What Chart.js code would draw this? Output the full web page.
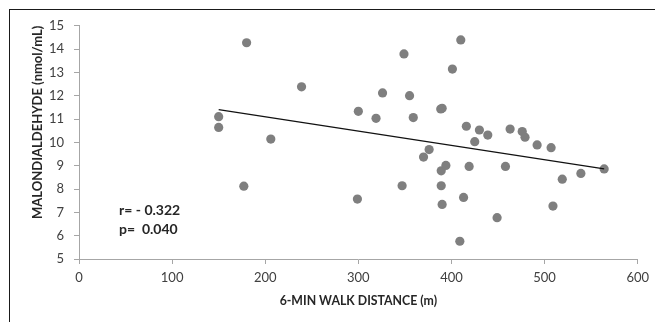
<!DOCTYPE html>
<html>
<head>
<meta charset="utf-8">
<script src="https://cdn.jsdelivr.net/npm/chart.js@4/dist/chart.umd.min.js"></script>
<style>
  html, body { margin: 0; padding: 0; background: #fff; }
  #wrap { position: relative; width: 655px; height: 322px; }
  #frame {
    position: absolute; left: 9px; top: 9px; right: 0; bottom: 0;
    border-top: 1px solid #1a1a1a; border-left: 1px solid #1a1a1a;
    pointer-events: none;
  }
</style>
</head>
<body>
<div id="wrap">
  <canvas id="chart" width="655" height="322"></canvas>
  <div id="frame"></div>
</div>
<script>
// ============================================
// 6MWD vs malondialdehyde scatter
// ============================================

// walk distance (m) and MDA (nmol/mL)
const walkDistance = [
    150, 150, 177, 180, 206, 239, 300, 299, 319, 326,
    347, 349, 355, 359, 370, 376, 388.5, 390, 389, 394,
    389, 390, 401, 409, 410, 413, 416, 419, 425, 430,
    439, 449, 458, 463, 476, 479, 492, 507, 509, 519,
    539, 564
];
const malondialdehyde = [
    11.10, 10.64, 8.12, 14.27, 10.14, 12.38, 11.33, 7.57, 11.03, 12.12,
    8.14, 13.79, 12.00, 11.06, 9.37, 9.69, 11.43, 11.46, 8.78, 9.01,
    8.14, 7.34, 13.14, 5.76, 14.39, 7.64, 10.69, 8.97, 10.03, 10.53,
    10.31, 6.77, 8.97, 10.57, 10.46, 10.22, 9.89, 9.77, 7.27, 8.42,
    8.67, 8.86
];

// linear trend line end points
const trendX = [150, 564];
const trendY = [11.40, 8.86];

// axis ticks
const xTicks = [0, 100, 200, 300, 400, 500, 600];
const yTicks = [5, 6, 7, 8, 9, 10, 11, 12, 13, 14, 15];

// correlation stats
const statLines = ['r= - 0.322', 'p=  0.040'];
const statX = 43;
const statY = [7.1, 6.27];

const FONT = 'Lato, "Open Sans", sans-serif';
const AXIS_GREY = '#a6a6a6';

/**
 * Draws the r / p annotation inside the plot
 */
const statsPlugin = {
    id: 'stats',
    afterDatasetsDraw(chart) {
        const { ctx, scales } = chart;
        ctx.save();
        ctx.font = 'bold 14px ' + FONT;
        ctx.fillStyle = '#262626';
        ctx.textAlign = 'left';
        ctx.textBaseline = 'middle';
        statLines.forEach((txt, i) => {
            ctx.fillText(txt, scales.x.getPixelForValue(statX), scales.y.getPixelForValue(statY[i]));
        });
        ctx.restore();
    }
};

const points = walkDistance.map((x, i) => ({ x: x, y: malondialdehyde[i] }));
const trend = trendX.map((x, i) => ({ x: x, y: trendY[i] }));

new Chart(document.getElementById('chart').getContext('2d'), {
    type: 'scatter',
    data: {
        datasets: [
            {
                type: 'line',
                data: trend,
                borderColor: '#111',
                borderWidth: 1.2,
                pointRadius: 0,
                fill: false,
                order: 0
            },
            {
                data: points,
                backgroundColor: '#7f7f7f',
                borderWidth: 0,
                pointRadius: 4.6,
                order: 1,
                clip: false
            }
        ]
    },
    options: {
        responsive: false,
        animation: false,
        layout: {
            padding: { top: 25.7, right: 16, bottom: 0, left: 0 }
        },
        scales: {
            x: {
                type: 'linear',
                min: 0,
                max: 600,
                afterBuildTicks: s => { s.ticks = xTicks.map(v => ({ value: v })); },
                afterFit: s => { s.height = 63; },
                border: { color: AXIS_GREY, width: 1 },
                grid: {
                    drawOnChartArea: false,
                    drawTicks: true,
                    tickLength: 5,
                    color: AXIS_GREY
                },
                ticks: {
                    color: '#404040',
                    padding: 6,
                    font: { family: FONT, size: 13 }
                },
                title: {
                    display: true,
                    text: '6-MIN WALK DISTANCE (m)',
                    color: '#262626',
                    padding: { top: 0, bottom: 14 },
                    font: { family: FONT, size: 12.3, weight: 'bold' }
                }
            },
            y: {
                type: 'linear',
                min: 5,
                max: 15,
                afterBuildTicks: s => { s.ticks = yTicks.map(v => ({ value: v })); },
                afterFit: s => { s.width = 79; },
                border: { color: AXIS_GREY, width: 1 },
                grid: {
                    drawOnChartArea: false,
                    drawTicks: true,
                    tickLength: 5,
                    color: AXIS_GREY
                },
                ticks: {
                    color: '#404040',
                    padding: 10,
                    font: { family: FONT, size: 13 }
                },
                title: {
                    display: true,
                    text: 'MALONDIALDEHYDE (nmol/mL)',
                    color: '#262626',
                    align: 'end',
                    padding: { top: 30, bottom: 0 },
                    font: { family: FONT, size: 13, weight: 'bold' }
                }
            }
        },
        plugins: {
            legend: { display: false },
            tooltip: { enabled: false }
        }
    },
    plugins: [statsPlugin]
});
</script>
</body>
</html>
